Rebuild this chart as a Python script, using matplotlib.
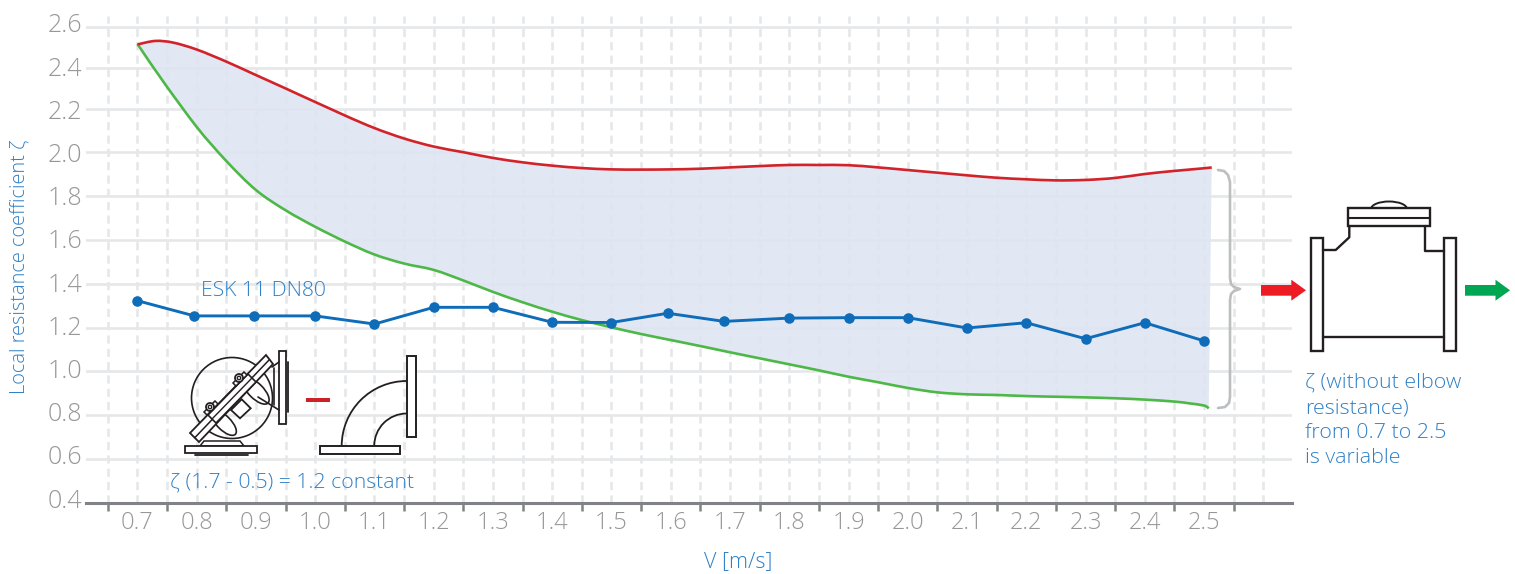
import numpy as np
import matplotlib
matplotlib.use('Agg')
import matplotlib.pyplot as plt
from matplotlib.path import Path
from matplotlib.patches import Rectangle, Polygon, Circle, Arc, Ellipse, PathPatch
from matplotlib.transforms import ScaledTranslation

# values
categories = [0.7, 0.8, 0.9, 1.0, 1.1, 1.2, 1.3, 1.4, 1.5, 1.6, 1.7, 1.8, 1.9, 2.0, 2.1, 2.2, 2.3, 2.4, 2.5]
cat_labels = ['%.1f' % c for c in categories]
tick_edges = [0.65, 0.75, 0.85, 0.95, 1.05, 1.15, 1.25, 1.35, 1.45, 1.55, 1.65, 1.75, 1.85, 1.95, 2.05, 2.15, 2.25, 2.35, 2.45, 2.55]
grid_extra = [2.6]
y_ticks = [0.4, 0.6, 0.8, 1.0, 1.2, 1.4, 1.6, 1.8, 2.0, 2.2, 2.4, 2.6]
y_labels = ['%.1f' % y for y in y_ticks]

esk_v = [0.7, 0.796, 0.896, 1.0, 1.1, 1.2, 1.3, 1.4, 1.5, 1.595, 1.69, 1.8, 1.9, 2.0, 2.1, 2.2, 2.3, 2.4, 2.5]
esk_z = [1.324, 1.255, 1.255, 1.255, 1.218, 1.294, 1.294, 1.226, 1.225, 1.267, 1.230, 1.245, 1.247, 1.247, 1.200, 1.224, 1.150, 1.224, 1.140]

red_v = [0.7, 0.73, 0.76, 0.8, 0.85, 0.9, 0.95, 1.0, 1.05, 1.1, 1.15, 1.2, 1.25, 1.3, 1.35, 1.4, 1.45, 1.5, 1.55, 1.6, 1.65,
         1.7, 1.75, 1.8, 1.85, 1.9, 1.95, 2.0, 2.05, 2.1, 2.15, 2.2, 2.25, 2.3, 2.35, 2.4, 2.45, 2.5, 2.513]
red_z = [2.515, 2.532, 2.524, 2.490, 2.431, 2.365, 2.299, 2.232, 2.168, 2.110, 2.062, 2.025, 1.999, 1.973, 1.953, 1.938, 1.927, 1.921, 1.920, 1.921, 1.924,
         1.930, 1.936, 1.941, 1.941, 1.940, 1.930, 1.918, 1.906, 1.894, 1.883, 1.876, 1.871, 1.873, 1.882, 1.900, 1.914, 1.926, 1.930]

green_v = [0.7, 0.75, 0.8, 0.85, 0.9, 0.95, 1.0, 1.05, 1.1, 1.15, 1.2, 1.25, 1.3, 1.35, 1.4, 1.45, 1.5, 1.55, 1.6, 1.65,
           1.7, 1.75, 1.8, 1.85, 1.9, 1.95, 2.0, 2.05, 2.1, 2.15, 2.2, 2.25, 2.3, 2.35, 2.4, 2.45, 2.475, 2.5, 2.508]
green_z = [2.517, 2.306, 2.115, 1.959, 1.827, 1.735, 1.660, 1.593, 1.534, 1.493, 1.464, 1.416, 1.364, 1.317, 1.274, 1.236, 1.203, 1.172, 1.144, 1.116,
           1.087, 1.059, 1.031, 1.003, 0.974, 0.949, 0.923, 0.903, 0.894, 0.891, 0.886, 0.883, 0.880, 0.876, 0.870, 0.861, 0.853, 0.843, 0.830]

# y axis of the original is not quite even near the top
scale_z = [0.4, 0.6, 0.8, 1.0, 1.2, 1.4, 1.6, 1.8, 2.0, 2.2, 2.4, 2.6, 2.654]
scale_px = [0, 44, 88, 132, 175, 219, 263, 307, 351, 394.5, 435, 476, 487]

W, H = 1515, 574
BLUE_TXT = '#2f80c6'
GREY_TXT = '#979797'
GRID = '#e6e7e8'
AXIS = '#808285'
INK = '#231f20'

plt.rcParams['font.family'] = ['Open Sans', 'DejaVu Sans']
plt.rcParams['font.weight'] = 300

fig = plt.figure(figsize=(W / 100, H / 100), dpi=100)
ax = fig.add_axes([86 / W, 1 - 503 / H, 1206 / W, 487 / H])


def fwd(z):
    return np.interp(z, scale_z, scale_px)


def inv(p):
    return np.interp(p, scale_px, scale_z)


def curve_segments(v, z):
    # bezier pieces through the read points so the curves stay round
    pts = np.column_stack([v, z])
    n = len(pts)
    verts, codes = [], []
    for i in range(n - 1):
        p0, p1, p2, p3 = pts[max(i - 1, 0)], pts[i], pts[i + 1], pts[min(i + 2, n - 1)]
        verts += [p1 + (p2 - p0) / 6, p2 - (p3 - p1) / 6, p2]
        codes += [Path.CURVE4] * 3
    return verts, codes


def curve_path(v, z):
    verts, codes = curve_segments(v, z)
    return Path([(v[0], z[0])] + verts, [Path.MOVETO] + codes)


ax.set_yscale('function', functions=(fwd, inv))
ax.set_xlim(0.6131, 2.6485)
ax.set_ylim(0.4, 2.654)

# ticks
ax.set_xticks(tick_edges + grid_extra)
ax.set_xticklabels([''] * (len(tick_edges) + 1))
ax.set_xticks(categories, labels=cat_labels, minor=True)
ax.tick_params(axis='x', which='major', length=6, width=1.8, color=AXIS)
ax.tick_params(axis='x', which='minor', length=0, pad=5.5, labelsize=17, labelcolor=GREY_TXT)
ax.xaxis.get_major_ticks()[-1].tick1line.set_visible(False)
ax.set_yticks(y_ticks, labels=y_labels)
ax.tick_params(axis='y', length=0, pad=3, labelsize=18, labelcolor=GREY_TXT)
for lab, grid_px, i in zip(ax.get_yticklabels(), scale_px, range(12)):
    target = 5 + 43.2 * i  # labels run on a slightly tighter spacing than the grid
    dy = (target - grid_px) / 100
    lab.set_transform(lab.get_transform() + ScaledTranslation(0, dy, fig.dpi_scale_trans))

ax.grid(axis='y', color=GRID, lw=1.9, zorder=0)
ax.grid(axis='x', which='both', color=GRID, lw=1.9, ls=(0, (3.1, 1.95)), zorder=0)
ax.set_axisbelow(True)

for side in ['top', 'right', 'left']:
    ax.spines[side].set_visible(False)
ax.spines['bottom'].set_color(AXIS)
ax.spines['bottom'].set_linewidth(2.2)

ax.set_xlabel('V [m/s]', fontsize=15.5, color=BLUE_TXT, va='center', fontweight=300)
ax.xaxis.set_label_coords((738 - 86) / 1206, (503 - 562) / 487)
ax.set_ylabel('Local resistance coefficient ζ', fontsize=14.4, color=BLUE_TXT, va='center', fontweight=300)
ax.yaxis.set_label_coords((20 - 86) / 1206, (503 - 267) / 487)

# band between the curves
top_verts, top_codes = curve_segments(red_v, red_z)
low_verts, low_codes = curve_segments(green_v[::-1], green_z[::-1])
band = Path([(red_v[0], red_z[0])] + top_verts + [(green_v[-1], green_z[-1])] + low_verts,
            [Path.MOVETO] + top_codes + [Path.LINETO] + low_codes)
ax.add_patch(PathPatch(band, facecolor='#dfe5f2', edgecolor='none', alpha=0.88, zorder=1))
ax.add_patch(PathPatch(curve_path(green_v, green_z), fill=False, edgecolor='#4db848', lw=1.9, zorder=3))
ax.add_patch(PathPatch(curve_path(red_v, red_z), fill=False, edgecolor='#d2232a', lw=1.9, zorder=4))
ax.plot(esk_v, esk_z, color='#0f6cb9', lw=2.1, marker='o', ms=7.6, mew=0, zorder=5)

# overlay in picture pixels for the drawings and notes
ov = fig.add_axes([0, 0, 1, 1])
ov.set_xlim(0, W)
ov.set_ylim(H, 0)
ov.axis('off')
ov.patch.set_alpha(0)


def box(x0, y0, x1, y1, lw=1.5, z=6):
    ov.add_patch(Rectangle((x0, y0), x1 - x0, y1 - y0, fc='white', ec=INK, lw=lw, zorder=z))


def line(xs, ys, lw=1.2, color=INK, z=7):
    ov.plot(xs, ys, color=color, lw=lw, zorder=z, solid_capstyle='round', solid_joinstyle='round')


def note(x, y, s, ha='left', size=15.4):
    ov.text(x, y, s, color=BLUE_TXT, fontsize=size, ha=ha, va='center')


note(201, 291.5, 'ESK 11 DN80', size=15.2)
note(170, 483, 'ζ (1.7 - 0.5) = 1.2 constant', size=15.3)
for yy, s in zip([383, 408, 433, 458], ['ζ (without elbow', 'resistance)', 'from 0.7 to 2.5', 'is variable']):
    note(1305, yy, s)

# valve with elbow
ov.add_patch(Arc((232, 398), 81, 81, theta1=0, theta2=360, ec=INK, lw=1.2, zorder=6))
ov.add_patch(Polygon([(200, 446), (204, 441), (240, 441), (244, 446)], fc='white', ec=INK, lw=1.1, zorder=6))
box(184.7, 446, 257.3, 453.3, lw=1.3)
line([195, 248], [454.5, 454.5], lw=1.3)
line([274, 274], [368, 405], lw=1.2)
line([272, 279], [367, 362], lw=1.2)
line([258, 279], [397, 410], lw=1.2)
box(279.3, 351, 286, 424, lw=1.3)
line([287.5, 287.5], [362, 412], lw=1.3)
# lobes, square, stem and clamp of the valve
ov.add_patch(Ellipse((256, 391), 15, 34, angle=-45, fc='white', ec=INK, lw=1.2, zorder=6.2))
ov.add_patch(Ellipse((224, 423), 14, 32, angle=-45, fc='white', ec=INK, lw=1.2, zorder=6.2))
ov.add_patch(Polygon([(231, 410), (241.7, 399.3), (250.7, 408.3), (240, 418.3)], fc='white', ec=INK, lw=1.3, zorder=6.3))
ov.add_patch(Polygon([(190, 433), (199, 442), (273, 364), (266, 355)], fc='white', ec=INK, lw=1.3, zorder=6.4))
line([195, 269.5], [437.5, 359.5], lw=1.1, z=6.5)
ov.add_patch(Polygon([(208, 415), (216, 423), (256, 382), (248, 374)], fc='white', ec=INK, lw=1.2, zorder=6.6))
line([212, 252], [419, 378], lw=1.0, z=6.65)
for cx, cy in [(210, 407), (239, 378)]:
    ov.add_patch(Polygon([(cx - 3, cy + 8), (cx + 8, cy - 3), (cx + 5, cy - 6), (cx - 6, cy + 5)], fc='white', ec=INK, lw=1.1, zorder=6.7))
    ov.add_patch(Circle((cx, cy), 4.0, fc='white', ec=INK, lw=1.3, zorder=6.8))
    ov.add_patch(Circle((cx, cy), 1.7, fc='white', ec=INK, lw=1.0, zorder=6.9))

# minus sign
ov.add_patch(Rectangle((306, 398), 24, 4, fc='#cf2027', ec='none', zorder=6))

# elbow
box(320.3, 446, 400.3, 454, lw=1.4)
box(406.7, 355.7, 416, 436.7, lw=1.4)
ov.add_patch(Arc((406.7, 446), 130, 130, theta1=180, theta2=270, ec=INK, lw=1.3, zorder=6))
ov.add_patch(Arc((406.7, 446), 65, 65, theta1=180, theta2=270, ec=INK, lw=1.3, zorder=6))

# brace
brace_x = [1218, 1224, 1228, 1230, 1230, 1231, 1234, 1240, 1234, 1231, 1230, 1230, 1229, 1225, 1218]
brace_y = [170, 171, 175, 182, 278, 284, 287, 289, 291, 294, 300, 397, 403, 407, 408]
line(brace_x, brace_y, lw=1.9, color='#bcbec0')

# flow arrows
for x0, x1, x2, col in [(1261, 1291.3, 1306, '#ed1c24'), (1465, 1495.5, 1510, '#00a651')]:
    ov.add_patch(Polygon([(x0, 285), (x1, 285), (x1, 279.7), (x2, 290.3), (x1, 300.7), (x1, 295.7), (x0, 295.7)],
                         fc=col, ec='none', zorder=6))

# check valve
box(1311, 238.3, 1323, 350.7, lw=1.7)
box(1444.3, 238.3, 1456.3, 350.7, lw=1.7)
line([1323, 1444.3], [337, 337], lw=1.7)
line([1323, 1335.7, 1349.3, 1349.3], [250, 250, 237.3, 226], lw=1.7)
line([1425.3, 1425.3, 1444.3], [226, 250.7, 250.7], lw=1.7)
box(1347.7, 208, 1430, 226, lw=1.7)
line([1347.7, 1430], [218, 218], lw=1.5)
ov.add_patch(Arc((1389, 209), 36, 15, theta1=180, theta2=360, ec=INK, lw=1.4, zorder=6))

fig.savefig('out.png', dpi=100)
